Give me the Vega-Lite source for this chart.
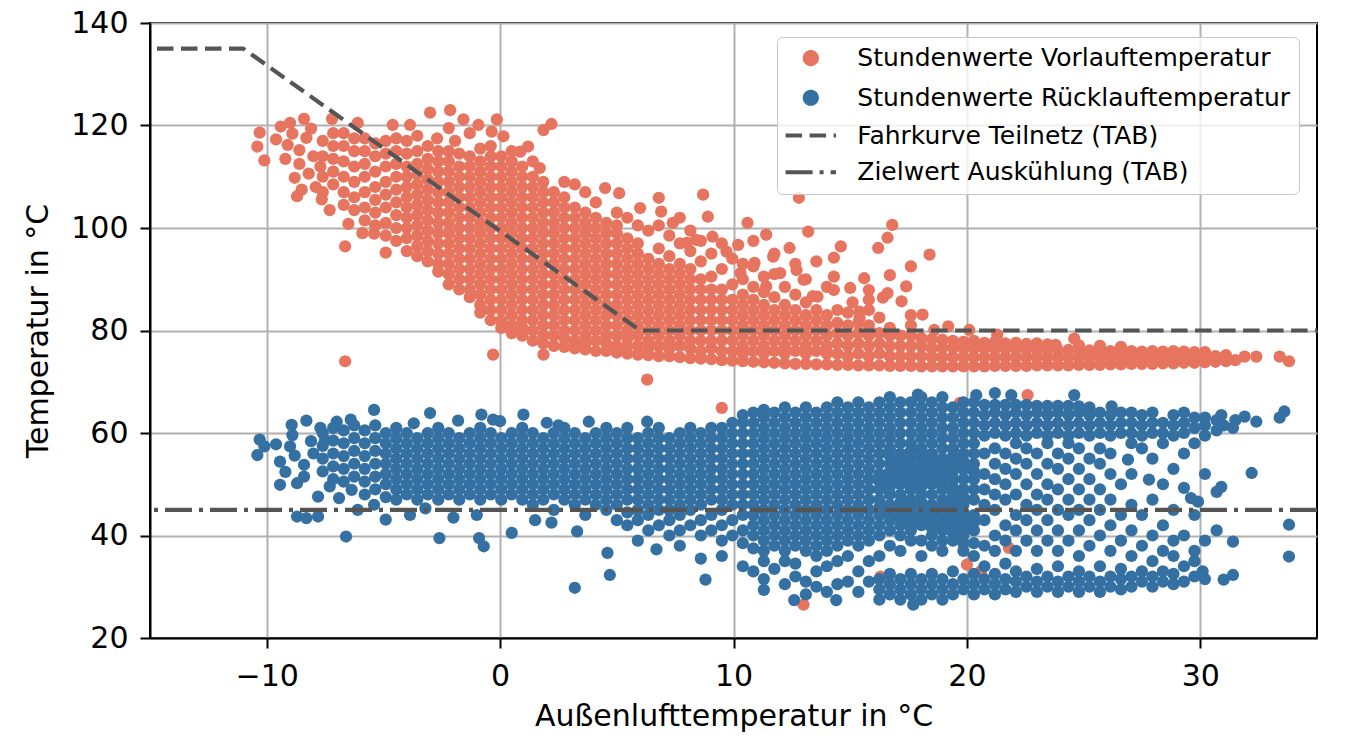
{
  "$schema": "https://vega.github.io/schema/vega-lite/v6.json",
  "description": "Stundenwerte Vor- und Rücklauftemperatur über der Außenlufttemperatur mit Fahrkurve und Zielwert (TAB).",
  "width": 1167,
  "height": 615,
  "autosize": {"type": "none"},
  "padding": {"left": 150, "top": 23, "right": 29, "bottom": 100},
  "datasets": {
    "vorlauf": [
      {"ta":-10.4,"t":115.9},{"ta":-10.3,"t":118.6},{"ta":-10.1,"t":113.2},{"ta":-9.6,"t":117.3},{"ta":-9.4,"t":119.8},{"ta":-9.2,"t":113.5},{"ta":-9.0,"t":120.5},{"ta":-9.1,"t":116.2},{"ta":-8.8,"t":109.8},{"ta":-8.9,"t":118.4},{"ta":-8.6,"t":112.5},{"ta":-8.6,"t":115.2},{"ta":-8.4,"t":121.3},{"ta":-8.3,"t":117.6},{"ta":-8.2,"t":110.6},{"ta":-8.0,"t":114.0},{"ta":-8.1,"t":119.4},{"ta":-7.9,"t":108.0},{"ta":-7.7,"t":112.0},{"ta":-7.64,"t":105.6},{"ta":-6.64,"t":74.0},{"ta":-6.64,"t":96.4},{"ta":-6.5,"t":100.8},{"ta":-4.9,"t":95.2},{"ta":-5.4,"t":98.9},{"ta":-7.2,"t":121.3},{"ta":-6.1,"t":120.5},{"ta":-4.6,"t":120.1},{"ta":-3.86,"t":120.1},{"ta":-3.0,"t":122.5},{"ta":-2.14,"t":123.0},{"ta":-1.57,"t":121.2},{"ta":-0.93,"t":120.1},{"ta":-0.14,"t":121.2},{"ta":-0.36,"t":118.8},{"ta":0.14,"t":117.9},{"ta":-2.7,"t":117.5},{"ta":-1.93,"t":117.0},{"ta":1.2,"t":115.9},{"ta":0.86,"t":114.9},{"ta":1.86,"t":119.1},{"ta":1.7,"t":111.7},{"ta":2.2,"t":120.3},{"ta":-0.3,"t":75.3},{"ta":1.86,"t":75.3},{"ta":6.3,"t":70.4},{"ta":9.5,"t":64.9},{"ta":12.8,"t":105.9},{"ta":8.7,"t":106.5},{"ta":6.8,"t":105.9},
      {"ta":11.7,"t":94.4},{"ta":10.9,"t":93.2},{"ta":9.7,"t":95.4},{"ta":10.3,"t":91.2},{"ta":12.0,"t":91.2},{"ta":12.7,"t":91.8},{"ta":13.0,"t":89.9},{"ta":13.6,"t":86.6},{"ta":11.4,"t":88.6},{"ta":8.0,"t":97.1},{"ta":7.4,"t":101},{"ta":6.9,"t":103.2},{"ta":6.0,"t":103.9},{"ta":5.0,"t":103},{"ta":9.1,"t":98.3},{"ta":8.4,"t":97.7},{"ta":10.2,"t":96.7},{"ta":15.8,"t":87.9},{"ta":16.4,"t":86.4},{"ta":15.4,"t":83.7},{"ta":16.6,"t":87.3},{"ta":-8.5,"t":107.5},{"ta":-8.7,"t":106.2},{"ta":-7.3,"t":103.5},{"ta":-5.9,"t":99},
      {"ta":-7.6,"t":107},{"ta":-7.6,"t":110},{"ta":-7.6,"t":114},{"ta":-7.6,"t":117},
      {"ta":-7.15,"t":108.5},{"ta":-7.15,"t":111},{"ta":-7.15,"t":113.5},{"ta":-7.15,"t":116},{"ta":-7.15,"t":118.5},
      {"ta":-6.7,"t":104.5},{"ta":-6.7,"t":107},{"ta":-6.7,"t":110},{"ta":-6.7,"t":113},{"ta":-6.7,"t":116},{"ta":-6.7,"t":118.5},
      {"ta":-6.25,"t":103.5},{"ta":-6.25,"t":106},{"ta":-6.25,"t":109},{"ta":-6.25,"t":112},{"ta":-6.25,"t":115},{"ta":-6.25,"t":117.5},
      {"ta":-5.8,"t":101.5},{"ta":-5.8,"t":104},{"ta":-5.8,"t":107},{"ta":-5.8,"t":110},{"ta":-5.8,"t":112.5},{"ta":-5.8,"t":115},{"ta":-5.8,"t":117.5},
      {"ta":-5.35,"t":100.5},{"ta":-5.35,"t":103},{"ta":-5.35,"t":105.5},{"ta":-5.35,"t":108},{"ta":-5.35,"t":111},{"ta":-5.35,"t":114},{"ta":-5.35,"t":116.5},
      {"ta":-4.9,"t":98.5},{"ta":-4.9,"t":101},{"ta":-4.9,"t":104},{"ta":-4.9,"t":106.5},{"ta":-4.9,"t":109},{"ta":-4.9,"t":112},{"ta":-4.9,"t":114.5},{"ta":-4.9,"t":117},
      {"ta":-4.45,"t":97.5},{"ta":-4.45,"t":100},{"ta":-4.45,"t":102.5},{"ta":-4.45,"t":105},{"ta":-4.45,"t":107.5},{"ta":-4.45,"t":110},{"ta":-4.45,"t":112.5},{"ta":-4.45,"t":115},{"ta":-4.45,"t":117.5},
      {"ta":-4.0,"t":95.5},{"ta":-4.0,"t":98},{"ta":-4.0,"t":100},{"ta":-4.0,"t":102},{"ta":-4.0,"t":104},{"ta":-4.0,"t":106},{"ta":-4.0,"t":108},{"ta":-4.0,"t":110},{"ta":-4.0,"t":112},{"ta":-4.0,"t":114.5},{"ta":-4.0,"t":117},
      {"ta":-3.55,"t":94.5},{"ta":-3.55,"t":96.5},{"ta":-3.55,"t":98.5},{"ta":-3.55,"t":100.5},{"ta":-3.55,"t":102.5},{"ta":-3.55,"t":104.5},{"ta":-3.55,"t":106.5},{"ta":-3.55,"t":108.5},{"ta":-3.55,"t":110.5},{"ta":-3.55,"t":112.5},{"ta":-3.55,"t":115},{"ta":-3.55,"t":118},
      {"ta":-3.1,"t":93.5},{"ta":-3.1,"t":95.5},{"ta":-3.1,"t":97.5},{"ta":-3.1,"t":99.5},{"ta":-3.1,"t":101.5},{"ta":-3.1,"t":103.5},{"ta":-3.1,"t":105.5},{"ta":-3.1,"t":107.5},{"ta":-3.1,"t":109.5},{"ta":-3.1,"t":111.5},{"ta":-3.1,"t":113.5},{"ta":-3.1,"t":116},
      {"ta":-2.65,"t":91.5},{"ta":-2.65,"t":93},{"ta":-2.65,"t":95},{"ta":-2.65,"t":97},{"ta":-2.65,"t":99},{"ta":-2.65,"t":101},{"ta":-2.65,"t":103},{"ta":-2.65,"t":105},{"ta":-2.65,"t":107},{"ta":-2.65,"t":109},{"ta":-2.65,"t":111},{"ta":-2.65,"t":113},{"ta":-2.65,"t":115},
      {"ta":-2.2,"t":89},{"ta":-2.2,"t":91},{"ta":-2.2,"t":93},{"ta":-2.2,"t":95},{"ta":-2.2,"t":97},{"ta":-2.2,"t":99},{"ta":-2.2,"t":101},{"ta":-2.2,"t":103},{"ta":-2.2,"t":105},{"ta":-2.2,"t":107},{"ta":-2.2,"t":109},{"ta":-2.2,"t":111},{"ta":-2.2,"t":113},{"ta":-2.2,"t":115},{"ta":-2.2,"t":119.5},
      {"ta":-1.75,"t":88},{"ta":-1.75,"t":90},{"ta":-1.75,"t":92},{"ta":-1.75,"t":94},{"ta":-1.75,"t":96},{"ta":-1.75,"t":98},{"ta":-1.75,"t":100},{"ta":-1.75,"t":102},{"ta":-1.75,"t":104},{"ta":-1.75,"t":106},{"ta":-1.75,"t":108},{"ta":-1.75,"t":110},{"ta":-1.75,"t":112},{"ta":-1.75,"t":114.5},
      {"ta":-1.3,"t":86.5},{"ta":-1.3,"t":88},{"ta":-1.3,"t":90},{"ta":-1.3,"t":92},{"ta":-1.3,"t":94},{"ta":-1.3,"t":96},{"ta":-1.3,"t":98},{"ta":-1.3,"t":100},{"ta":-1.3,"t":102},{"ta":-1.3,"t":104},{"ta":-1.3,"t":106},{"ta":-1.3,"t":108},{"ta":-1.3,"t":110},{"ta":-1.3,"t":112},{"ta":-1.3,"t":114},{"ta":-1.3,"t":118.5},
      {"ta":-0.85,"t":83.5},{"ta":-0.85,"t":85},{"ta":-0.85,"t":87},{"ta":-0.85,"t":89},{"ta":-0.85,"t":91},{"ta":-0.85,"t":93},{"ta":-0.85,"t":95},{"ta":-0.85,"t":97},{"ta":-0.85,"t":99},{"ta":-0.85,"t":101},{"ta":-0.85,"t":103},{"ta":-0.85,"t":105},{"ta":-0.85,"t":107},{"ta":-0.85,"t":109},{"ta":-0.85,"t":111},{"ta":-0.85,"t":113},{"ta":-0.85,"t":115.5},
      {"ta":-0.4,"t":82},{"ta":-0.4,"t":84},{"ta":-0.4,"t":86},{"ta":-0.4,"t":88},{"ta":-0.4,"t":90},{"ta":-0.4,"t":92},{"ta":-0.4,"t":94},{"ta":-0.4,"t":96},{"ta":-0.4,"t":98},{"ta":-0.4,"t":100},{"ta":-0.4,"t":102},{"ta":-0.4,"t":104},{"ta":-0.4,"t":106},{"ta":-0.4,"t":108},{"ta":-0.4,"t":110},{"ta":-0.4,"t":112},{"ta":-0.4,"t":114},{"ta":-0.4,"t":116},
      {"ta":0.05,"t":80.5},{"ta":0.05,"t":82},{"ta":0.05,"t":84},{"ta":0.05,"t":86},{"ta":0.05,"t":88},{"ta":0.05,"t":90},{"ta":0.05,"t":92},{"ta":0.05,"t":94},{"ta":0.05,"t":96},{"ta":0.05,"t":98},{"ta":0.05,"t":100},{"ta":0.05,"t":102},{"ta":0.05,"t":104},{"ta":0.05,"t":106},{"ta":0.05,"t":108},{"ta":0.05,"t":110},{"ta":0.05,"t":112},{"ta":0.05,"t":114},
      {"ta":0.5,"t":79.5},{"ta":0.5,"t":81},{"ta":0.5,"t":83},{"ta":0.5,"t":85},{"ta":0.5,"t":87},{"ta":0.5,"t":89},{"ta":0.5,"t":91},{"ta":0.5,"t":93},{"ta":0.5,"t":95},{"ta":0.5,"t":97},{"ta":0.5,"t":99},{"ta":0.5,"t":101},{"ta":0.5,"t":103},{"ta":0.5,"t":105},{"ta":0.5,"t":107},{"ta":0.5,"t":109},{"ta":0.5,"t":111},{"ta":0.5,"t":113},{"ta":0.5,"t":115},
      {"ta":0.95,"t":79},{"ta":0.95,"t":80.5},{"ta":0.95,"t":82},{"ta":0.95,"t":84},{"ta":0.95,"t":86},{"ta":0.95,"t":88},{"ta":0.95,"t":90},{"ta":0.95,"t":92},{"ta":0.95,"t":94},{"ta":0.95,"t":96},{"ta":0.95,"t":98},{"ta":0.95,"t":100},{"ta":0.95,"t":102},{"ta":0.95,"t":104},{"ta":0.95,"t":106},{"ta":0.95,"t":108},{"ta":0.95,"t":110},{"ta":0.95,"t":112},
      {"ta":1.4,"t":78},{"ta":1.4,"t":80},{"ta":1.4,"t":82},{"ta":1.4,"t":84},{"ta":1.4,"t":86},{"ta":1.4,"t":88},{"ta":1.4,"t":90},{"ta":1.4,"t":92},{"ta":1.4,"t":94},{"ta":1.4,"t":96},{"ta":1.4,"t":98},{"ta":1.4,"t":100},{"ta":1.4,"t":102},{"ta":1.4,"t":104},{"ta":1.4,"t":106},{"ta":1.4,"t":108},{"ta":1.4,"t":110},{"ta":1.4,"t":113},
      {"ta":1.85,"t":77.5},{"ta":1.85,"t":79},{"ta":1.85,"t":81},{"ta":1.85,"t":83},{"ta":1.85,"t":85},{"ta":1.85,"t":87},{"ta":1.85,"t":89},{"ta":1.85,"t":91},{"ta":1.85,"t":93},{"ta":1.85,"t":95},{"ta":1.85,"t":97},{"ta":1.85,"t":99},{"ta":1.85,"t":101},{"ta":1.85,"t":103},{"ta":1.85,"t":105},{"ta":1.85,"t":107},{"ta":1.85,"t":109},
      {"ta":2.3,"t":77},{"ta":2.3,"t":79},{"ta":2.3,"t":81},{"ta":2.3,"t":83},{"ta":2.3,"t":85},{"ta":2.3,"t":87},{"ta":2.3,"t":89},{"ta":2.3,"t":91},{"ta":2.3,"t":93},{"ta":2.3,"t":95},{"ta":2.3,"t":97},{"ta":2.3,"t":99},{"ta":2.3,"t":101},{"ta":2.3,"t":103},{"ta":2.3,"t":105},{"ta":2.3,"t":107},
      {"ta":2.75,"t":76.8},{"ta":2.75,"t":78.5},{"ta":2.75,"t":80},{"ta":2.75,"t":82},{"ta":2.75,"t":84},{"ta":2.75,"t":86},{"ta":2.75,"t":88},{"ta":2.75,"t":90},{"ta":2.75,"t":92},{"ta":2.75,"t":94},{"ta":2.75,"t":96},{"ta":2.75,"t":98},{"ta":2.75,"t":100},{"ta":2.75,"t":102},{"ta":2.75,"t":104},{"ta":2.75,"t":106},{"ta":2.75,"t":109},
      {"ta":3.2,"t":76.5},{"ta":3.2,"t":78},{"ta":3.2,"t":80},{"ta":3.2,"t":82},{"ta":3.2,"t":84},{"ta":3.2,"t":86},{"ta":3.2,"t":88},{"ta":3.2,"t":90},{"ta":3.2,"t":92},{"ta":3.2,"t":94},{"ta":3.2,"t":96},{"ta":3.2,"t":98},{"ta":3.2,"t":100},{"ta":3.2,"t":102},{"ta":3.2,"t":104},{"ta":3.2,"t":108.5},
      {"ta":3.65,"t":76.3},{"ta":3.65,"t":77.5},{"ta":3.65,"t":79},{"ta":3.65,"t":81},{"ta":3.65,"t":83},{"ta":3.65,"t":85},{"ta":3.65,"t":87},{"ta":3.65,"t":89},{"ta":3.65,"t":91},{"ta":3.65,"t":93},{"ta":3.65,"t":95},{"ta":3.65,"t":97},{"ta":3.65,"t":99},{"ta":3.65,"t":101},{"ta":3.65,"t":103},{"ta":3.65,"t":107},
      {"ta":4.1,"t":76},{"ta":4.1,"t":78},{"ta":4.1,"t":80},{"ta":4.1,"t":82},{"ta":4.1,"t":84},{"ta":4.1,"t":86},{"ta":4.1,"t":88},{"ta":4.1,"t":90},{"ta":4.1,"t":92},{"ta":4.1,"t":94},{"ta":4.1,"t":96},{"ta":4.1,"t":98},{"ta":4.1,"t":100},{"ta":4.1,"t":102},{"ta":4.1,"t":105},
      {"ta":4.55,"t":76},{"ta":4.55,"t":77.5},{"ta":4.55,"t":79},{"ta":4.55,"t":81},{"ta":4.55,"t":83},{"ta":4.55,"t":85},{"ta":4.55,"t":87},{"ta":4.55,"t":89},{"ta":4.55,"t":91},{"ta":4.55,"t":93},{"ta":4.55,"t":95},{"ta":4.55,"t":97},{"ta":4.55,"t":99},{"ta":4.55,"t":101},{"ta":4.5,"t":107.8},
      {"ta":5.0,"t":75.7},{"ta":5.0,"t":77},{"ta":5.0,"t":79},{"ta":5.0,"t":81},{"ta":5.0,"t":83},{"ta":5.0,"t":85},{"ta":5.0,"t":87},{"ta":5.0,"t":89},{"ta":5.0,"t":91},{"ta":5.0,"t":93},{"ta":5.0,"t":95},{"ta":5.0,"t":97},{"ta":5.0,"t":99},{"ta":5.0,"t":100.5},{"ta":5.1,"t":106.8},
      {"ta":5.45,"t":75.5},{"ta":5.45,"t":77},{"ta":5.45,"t":78.5},{"ta":5.45,"t":80},{"ta":5.45,"t":82},{"ta":5.45,"t":84},{"ta":5.45,"t":86},{"ta":5.45,"t":88},{"ta":5.45,"t":90},{"ta":5.45,"t":92},{"ta":5.45,"t":94},{"ta":5.45,"t":96},{"ta":5.45,"t":98},{"ta":5.45,"t":102},
      {"ta":5.9,"t":75.3},{"ta":5.9,"t":77},{"ta":5.9,"t":79},{"ta":5.9,"t":81},{"ta":5.9,"t":83},{"ta":5.9,"t":85},{"ta":5.9,"t":87},{"ta":5.9,"t":89},{"ta":5.9,"t":91},{"ta":5.9,"t":93},{"ta":5.9,"t":95},{"ta":5.9,"t":97},{"ta":5.9,"t":100.5},
      {"ta":6.35,"t":75.2},{"ta":6.35,"t":76.5},{"ta":6.35,"t":78},{"ta":6.35,"t":80},{"ta":6.35,"t":82},{"ta":6.35,"t":84},{"ta":6.35,"t":86},{"ta":6.35,"t":88},{"ta":6.35,"t":90},{"ta":6.35,"t":92},{"ta":6.35,"t":94},{"ta":6.35,"t":99.5},
      {"ta":6.8,"t":75},{"ta":6.8,"t":77},{"ta":6.8,"t":79},{"ta":6.8,"t":81},{"ta":6.8,"t":83},{"ta":6.8,"t":85},{"ta":6.8,"t":87},{"ta":6.8,"t":89},{"ta":6.8,"t":91},{"ta":6.8,"t":93},{"ta":6.8,"t":96},{"ta":6.8,"t":100.5},
      {"ta":7.25,"t":75},{"ta":7.25,"t":76.5},{"ta":7.25,"t":78},{"ta":7.25,"t":80},{"ta":7.25,"t":82},{"ta":7.25,"t":84},{"ta":7.25,"t":86},{"ta":7.25,"t":88},{"ta":7.25,"t":90},{"ta":7.25,"t":92},{"ta":7.25,"t":94.5},{"ta":7.25,"t":98.5},
      {"ta":7.7,"t":74.8},{"ta":7.7,"t":77},{"ta":7.7,"t":79},{"ta":7.7,"t":81},{"ta":7.7,"t":83},{"ta":7.7,"t":85},{"ta":7.7,"t":87},{"ta":7.7,"t":89},{"ta":7.7,"t":91},{"ta":7.7,"t":93},{"ta":7.7,"t":97},{"ta":7.7,"t":102},
      {"ta":8.15,"t":74.6},{"ta":8.15,"t":76.5},{"ta":8.15,"t":78},{"ta":8.15,"t":80},{"ta":8.15,"t":82},{"ta":8.15,"t":84},{"ta":8.15,"t":86},{"ta":8.15,"t":88},{"ta":8.15,"t":90},{"ta":8.15,"t":92},{"ta":8.15,"t":95.5},{"ta":8.15,"t":99.5},
      {"ta":8.6,"t":74.5},{"ta":8.6,"t":76},{"ta":8.6,"t":78},{"ta":8.6,"t":80},{"ta":8.6,"t":82},{"ta":8.6,"t":84},{"ta":8.6,"t":86},{"ta":8.6,"t":88},{"ta":8.6,"t":90},{"ta":8.6,"t":93.5},{"ta":8.6,"t":97.5},
      {"ta":9.05,"t":74.4},{"ta":9.05,"t":76.5},{"ta":9.05,"t":78},{"ta":9.05,"t":80},{"ta":9.05,"t":82},{"ta":9.05,"t":84},{"ta":9.05,"t":86},{"ta":9.05,"t":88},{"ta":9.05,"t":90.5},{"ta":9.05,"t":95},{"ta":8.9,"t":102.2},
      {"ta":9.5,"t":74.2},{"ta":9.5,"t":76},{"ta":9.5,"t":78},{"ta":9.5,"t":80},{"ta":9.5,"t":82},{"ta":9.5,"t":84},{"ta":9.5,"t":86},{"ta":9.5,"t":88},{"ta":9.5,"t":92},{"ta":9.5,"t":97},
      {"ta":9.95,"t":74.1},{"ta":9.95,"t":76},{"ta":9.95,"t":78},{"ta":9.95,"t":80},{"ta":9.95,"t":82},{"ta":9.95,"t":84},{"ta":9.95,"t":86},{"ta":9.95,"t":89},{"ta":9.95,"t":94},
      {"ta":10.4,"t":74},{"ta":10.4,"t":75.5},{"ta":10.4,"t":77},{"ta":10.4,"t":79},{"ta":10.4,"t":81},{"ta":10.4,"t":83},{"ta":10.4,"t":85},{"ta":10.4,"t":87},{"ta":10.4,"t":90},{"ta":10.4,"t":93},{"ta":10.6,"t":101},
      {"ta":10.85,"t":73.9},{"ta":10.85,"t":76},{"ta":10.85,"t":78},{"ta":10.85,"t":80},{"ta":10.85,"t":82},{"ta":10.85,"t":84},{"ta":10.85,"t":86},{"ta":10.85,"t":88.5},{"ta":10.85,"t":92.5},{"ta":10.85,"t":97.5},
      {"ta":11.3,"t":73.8},{"ta":11.3,"t":75.5},{"ta":11.3,"t":77},{"ta":11.3,"t":79},{"ta":11.3,"t":81},{"ta":11.3,"t":83},{"ta":11.3,"t":85},{"ta":11.3,"t":87.5},{"ta":11.3,"t":90.5},{"ta":11.4,"t":98.7},
      {"ta":11.75,"t":73.7},{"ta":11.75,"t":76},{"ta":11.75,"t":78},{"ta":11.75,"t":80},{"ta":11.75,"t":82},{"ta":11.75,"t":84},{"ta":11.75,"t":86.5},{"ta":11.75,"t":91},{"ta":11.75,"t":95},
      {"ta":12.2,"t":73.6},{"ta":12.2,"t":75.5},{"ta":12.2,"t":77},{"ta":12.2,"t":79},{"ta":12.2,"t":81},{"ta":12.2,"t":83},{"ta":12.2,"t":85},{"ta":12.2,"t":88.5},{"ta":12.4,"t":96.1},
      {"ta":12.65,"t":73.5},{"ta":12.65,"t":76},{"ta":12.65,"t":78},{"ta":12.65,"t":80},{"ta":12.65,"t":82},{"ta":12.65,"t":84},{"ta":12.65,"t":87},{"ta":12.65,"t":93},
      {"ta":13.1,"t":73.5},{"ta":13.1,"t":75.5},{"ta":13.1,"t":77},{"ta":13.1,"t":79},{"ta":13.1,"t":81},{"ta":13.1,"t":83},{"ta":13.1,"t":85.5},{"ta":13.1,"t":90},{"ta":13.2,"t":99.3},
      {"ta":13.55,"t":73.4},{"ta":13.55,"t":76},{"ta":13.55,"t":78},{"ta":13.55,"t":80},{"ta":13.55,"t":82},{"ta":13.55,"t":84},{"ta":13.4,"t":86.7},{"ta":13.55,"t":93.5},
      {"ta":14.0,"t":73.4},{"ta":14.0,"t":75.5},{"ta":14.0,"t":77},{"ta":14.0,"t":79},{"ta":14.0,"t":81},{"ta":14.0,"t":83},{"ta":14.0,"t":88.5},{"ta":14.6,"t":96.4},
      {"ta":14.45,"t":73.3},{"ta":14.45,"t":75.5},{"ta":14.45,"t":77.5},{"ta":14.45,"t":79.5},{"ta":14.45,"t":81.5},{"ta":14.45,"t":84},{"ta":14.3,"t":87.9},{"ta":14.3,"t":90.5},{"ta":14.3,"t":94.2},
      {"ta":14.9,"t":73.3},{"ta":14.9,"t":75},{"ta":14.9,"t":77},{"ta":14.9,"t":79},{"ta":14.9,"t":81},{"ta":14.9,"t":83.5},{"ta":15.1,"t":85.5},{"ta":15.0,"t":88.3},
      {"ta":15.35,"t":73.2},{"ta":15.35,"t":75.5},{"ta":15.35,"t":77.5},{"ta":15.35,"t":79.5},{"ta":15.35,"t":81.5},{"ta":15.4,"t":82.5},{"ta":15.6,"t":90.2},
      {"ta":15.8,"t":73.2},{"ta":15.8,"t":75},{"ta":15.8,"t":77},{"ta":15.8,"t":79},{"ta":15.8,"t":81},{"ta":15.8,"t":84},{"ta":15.8,"t":86},
      {"ta":16.25,"t":73.2},{"ta":16.25,"t":75.5},{"ta":16.25,"t":77.5},{"ta":16.25,"t":79.5},{"ta":16.25,"t":82.5},{"ta":16.2,"t":96.1},
      {"ta":16.7,"t":73.1},{"ta":16.7,"t":75},{"ta":16.7,"t":77},{"ta":16.7,"t":79},{"ta":16.7,"t":80.5},{"ta":16.7,"t":90.8},{"ta":16.6,"t":98.1},{"ta":16.8,"t":100.6},
      {"ta":17.15,"t":73.1},{"ta":17.15,"t":75},{"ta":17.15,"t":77},{"ta":17.15,"t":79},{"ta":17.2,"t":85.7},{"ta":17.4,"t":88.6},
      {"ta":17.6,"t":73.1},{"ta":17.6,"t":75},{"ta":17.6,"t":77},{"ta":17.6,"t":79},{"ta":17.6,"t":81},{"ta":17.6,"t":83},{"ta":17.6,"t":92.5},
      {"ta":18.05,"t":73},{"ta":18.05,"t":75},{"ta":18.05,"t":77},{"ta":18.05,"t":78.5},{"ta":18.1,"t":83.1},
      {"ta":18.5,"t":73},{"ta":18.5,"t":74.8},{"ta":18.5,"t":76.5},{"ta":18.5,"t":78.3},{"ta":18.6,"t":80.1},{"ta":18.4,"t":94.8},
      {"ta":18.95,"t":73},{"ta":18.95,"t":74.8},{"ta":18.95,"t":76.6},{"ta":18.95,"t":78.2},{"ta":19.2,"t":80.8},
      {"ta":19.4,"t":73},{"ta":19.4,"t":74.8},{"ta":19.4,"t":76.6},{"ta":19.4,"t":78},
      {"ta":19.85,"t":73},{"ta":19.85,"t":74.8},{"ta":19.85,"t":76.5},{"ta":19.85,"t":77.8},
      {"ta":20.3,"t":73},{"ta":20.3,"t":74.8},{"ta":20.3,"t":76.5},{"ta":20.3,"t":78},{"ta":20.1,"t":80.1},
      {"ta":20.75,"t":73},{"ta":20.75,"t":74.8},{"ta":20.75,"t":76.5},{"ta":20.75,"t":77.6},
      {"ta":21.2,"t":73.1},{"ta":21.2,"t":74.8},{"ta":21.2,"t":76.4},{"ta":21.2,"t":77.8},{"ta":21.3,"t":79.2},
      {"ta":21.65,"t":73.1},{"ta":21.65,"t":74.8},{"ta":21.65,"t":76.4},{"ta":21.65,"t":77.5},
      {"ta":22.1,"t":73.1},{"ta":22.1,"t":74.8},{"ta":22.1,"t":76.4},{"ta":22.1,"t":77.6},
      {"ta":22.55,"t":73.1},{"ta":22.55,"t":74.8},{"ta":22.55,"t":76.3},{"ta":22.55,"t":77.4},
      {"ta":23.0,"t":73.2},{"ta":23.0,"t":74.8},{"ta":23.0,"t":76.3},{"ta":23.0,"t":77.5},
      {"ta":23.45,"t":73.2},{"ta":23.45,"t":74.8},{"ta":23.45,"t":76.3},{"ta":23.45,"t":77.3},
      {"ta":23.9,"t":73.2},{"ta":23.9,"t":74.8},{"ta":23.9,"t":76.2},{"ta":23.8,"t":77.2},
      {"ta":24.35,"t":73.2},{"ta":24.35,"t":74.8},{"ta":24.35,"t":76.2},{"ta":24.6,"t":78.4},
      {"ta":24.8,"t":73.3},{"ta":24.8,"t":74.8},{"ta":24.8,"t":76.2},{"ta":24.8,"t":77.1},
      {"ta":25.25,"t":73.3},{"ta":25.25,"t":74.8},{"ta":25.25,"t":76.1},
      {"ta":25.7,"t":73.3},{"ta":25.7,"t":74.8},{"ta":25.7,"t":76.1},{"ta":25.7,"t":77},
      {"ta":26.15,"t":73.4},{"ta":26.15,"t":74.8},{"ta":26.15,"t":76},
      {"ta":26.6,"t":73.4},{"ta":26.6,"t":74.8},{"ta":26.6,"t":76},{"ta":26.6,"t":76.8},
      {"ta":27.05,"t":73.5},{"ta":27.05,"t":74.8},{"ta":27.05,"t":76},
      {"ta":27.5,"t":73.5},{"ta":27.5,"t":74.8},{"ta":27.5,"t":75.9},
      {"ta":27.95,"t":73.5},{"ta":27.95,"t":74.8},{"ta":27.95,"t":76},
      {"ta":28.4,"t":73.6},{"ta":28.4,"t":74.9},{"ta":28.4,"t":75.9},
      {"ta":28.85,"t":73.6},{"ta":28.85,"t":74.9},{"ta":28.85,"t":76},
      {"ta":29.3,"t":73.7},{"ta":29.3,"t":74.9},{"ta":29.3,"t":75.9},
      {"ta":29.75,"t":73.7},{"ta":29.75,"t":74.9},{"ta":29.75,"t":75.8},
      {"ta":30.2,"t":73.8},{"ta":30.2,"t":75},{"ta":30.2,"t":75.8},
      {"ta":30.65,"t":73.9},{"ta":30.65,"t":75},
      {"ta":31.1,"t":74},{"ta":31.1,"t":75.2},{"ta":31.5,"t":74.2},{"ta":31.9,"t":74.9},{"ta":32.4,"t":74.9},{"ta":33.4,"t":74.9},{"ta":33.8,"t":74.0},
      {"ta":13.0,"t":26.5},{"ta":21.8,"t":37.6},{"ta":16.3,"t":32},{"ta":20.0,"t":34.3},{"ta":20.6,"t":33},{"ta":19.7,"t":65.9},{"ta":22.6,"t":67.4}
    ],
    "ruecklauf": [
      {"ta":-10.3,"t":58.7},{"ta":-10.1,"t":57.4},{"ta":-10.4,"t":55.7},{"ta":-9.43,"t":54.4},{"ta":-9.43,"t":49.9},{"ta":-8.93,"t":61.6},{"ta":-8.3,"t":62.4},{"ta":-9.0,"t":57.4},{"ta":-8.7,"t":50.2},{"ta":-8.7,"t":43.7},{"ta":-8.3,"t":43.4},{"ta":-7.8,"t":43.7},{"ta":-7.8,"t":47.6},{"ta":-8.4,"t":51.5},{"ta":-8.4,"t":53.8},{"ta":-7.7,"t":61},{"ta":-7.0,"t":62.2},{"ta":-6.4,"t":62.6},{"ta":-5.4,"t":64.5},{"ta":-6.6,"t":39.8},{"ta":-7.3,"t":49.6},{"ta":-6.9,"t":47.3},{"ta":-6.36,"t":48.9},{"ta":-6.1,"t":45},{"ta":-5.4,"t":46},{"ta":-4.9,"t":43.1},{"ta":-3.86,"t":44},{"ta":-3.7,"t":61.9},{"ta":-3.0,"t":63.9},{"ta":-3.2,"t":45.3},{"ta":-2.6,"t":39.5},{"ta":-0.8,"t":63.6},{"ta":-0.3,"t":62.6},{"ta":1.0,"t":63.6},{"ta":2.5,"t":61.5},{"ta":-0.9,"t":39.5},{"ta":-0.7,"t":37.9},{"ta":0.5,"t":40.5},{"ta":3.3,"t":40.8},{"ta":3.2,"t":29.8},{"ta":-9.6,"t":57.8},{"ta":-8.9,"t":59.6},{"ta":-8.1,"t":58.4},{"ta":-8.8,"t":55.6},{"ta":-9.2,"t":52.4},{"ta":-8.0,"t":56.0},{"ta":-7.5,"t":58.6},{"ta":-2.0,"t":43.5},{"ta":-1.0,"t":44},{"ta":1.5,"t":43},{"ta":2.2,"t":42.5},{"ta":0.0,"t":62.3},{"ta":2.0,"t":62.0},{"ta":3.8,"t":62.2},{"ta":-1.8,"t":62.4},
      {"ta":-7.6,"t":52.5},{"ta":-7.6,"t":55},{"ta":-7.6,"t":57.5},{"ta":-7.6,"t":60},
      {"ta":-7.15,"t":51},{"ta":-7.15,"t":53.5},{"ta":-7.15,"t":56},{"ta":-7.15,"t":58.5},{"ta":-7.15,"t":61},
      {"ta":-6.7,"t":50.5},{"ta":-6.7,"t":53},{"ta":-6.7,"t":55.5},{"ta":-6.7,"t":58},{"ta":-6.7,"t":60.5},
      {"ta":-6.25,"t":51.5},{"ta":-6.25,"t":54},{"ta":-6.25,"t":56.5},{"ta":-6.25,"t":59},{"ta":-6.25,"t":61.5},
      {"ta":-5.8,"t":48},{"ta":-5.8,"t":50.5},{"ta":-5.8,"t":53},{"ta":-5.8,"t":55.5},{"ta":-5.8,"t":58},{"ta":-5.8,"t":60.5},
      {"ta":-5.35,"t":49},{"ta":-5.35,"t":51.5},{"ta":-5.35,"t":54},{"ta":-5.35,"t":56.5},{"ta":-5.35,"t":59},{"ta":-5.35,"t":61.5},
      {"ta":-4.9,"t":47.5},{"ta":-4.9,"t":50},{"ta":-4.9,"t":52},{"ta":-4.9,"t":54},{"ta":-4.9,"t":56},{"ta":-4.9,"t":58},{"ta":-4.9,"t":60},
      {"ta":-4.45,"t":47},{"ta":-4.45,"t":49},{"ta":-4.45,"t":51},{"ta":-4.45,"t":53},{"ta":-4.45,"t":55},{"ta":-4.45,"t":57},{"ta":-4.45,"t":59},{"ta":-4.45,"t":61},
      {"ta":-4.0,"t":48},{"ta":-4.0,"t":50},{"ta":-4.0,"t":52},{"ta":-4.0,"t":54},{"ta":-4.0,"t":56},{"ta":-4.0,"t":58},{"ta":-4.0,"t":60},
      {"ta":-3.55,"t":47},{"ta":-3.55,"t":49},{"ta":-3.55,"t":51},{"ta":-3.55,"t":53},{"ta":-3.55,"t":55},{"ta":-3.55,"t":57},{"ta":-3.55,"t":59},
      {"ta":-3.1,"t":48},{"ta":-3.1,"t":50},{"ta":-3.1,"t":52},{"ta":-3.1,"t":54},{"ta":-3.1,"t":56},{"ta":-3.1,"t":58},{"ta":-3.1,"t":60},
      {"ta":-2.65,"t":47},{"ta":-2.65,"t":49},{"ta":-2.65,"t":51},{"ta":-2.65,"t":53},{"ta":-2.65,"t":55},{"ta":-2.65,"t":57},{"ta":-2.65,"t":59},{"ta":-2.65,"t":61},
      {"ta":-2.2,"t":48},{"ta":-2.2,"t":50},{"ta":-2.2,"t":52},{"ta":-2.2,"t":54},{"ta":-2.2,"t":56},{"ta":-2.2,"t":58},{"ta":-2.2,"t":60},
      {"ta":-1.75,"t":47},{"ta":-1.75,"t":49},{"ta":-1.75,"t":51},{"ta":-1.75,"t":53},{"ta":-1.75,"t":55},{"ta":-1.75,"t":57},{"ta":-1.75,"t":59},
      {"ta":-1.3,"t":48},{"ta":-1.3,"t":50},{"ta":-1.3,"t":52},{"ta":-1.3,"t":54},{"ta":-1.3,"t":56},{"ta":-1.3,"t":58},{"ta":-1.3,"t":60},
      {"ta":-0.85,"t":47},{"ta":-0.85,"t":49},{"ta":-0.85,"t":51},{"ta":-0.85,"t":53},{"ta":-0.85,"t":55},{"ta":-0.85,"t":57},{"ta":-0.85,"t":59},{"ta":-0.85,"t":61},
      {"ta":-0.4,"t":48},{"ta":-0.4,"t":50},{"ta":-0.4,"t":52},{"ta":-0.4,"t":54},{"ta":-0.4,"t":56},{"ta":-0.4,"t":58},{"ta":-0.4,"t":60},
      {"ta":0.05,"t":47},{"ta":0.05,"t":49},{"ta":0.05,"t":51},{"ta":0.05,"t":53},{"ta":0.05,"t":55},{"ta":0.05,"t":57},{"ta":0.05,"t":59},
      {"ta":0.5,"t":48},{"ta":0.5,"t":50},{"ta":0.5,"t":52},{"ta":0.5,"t":54},{"ta":0.5,"t":56},{"ta":0.5,"t":58},{"ta":0.5,"t":60},
      {"ta":0.95,"t":47},{"ta":0.95,"t":49},{"ta":0.95,"t":51},{"ta":0.95,"t":53},{"ta":0.95,"t":55},{"ta":0.95,"t":57},{"ta":0.95,"t":59},{"ta":0.95,"t":61},
      {"ta":1.4,"t":46},{"ta":1.4,"t":48},{"ta":1.4,"t":50},{"ta":1.4,"t":52},{"ta":1.4,"t":54},{"ta":1.4,"t":56},{"ta":1.4,"t":58},{"ta":1.4,"t":60},
      {"ta":1.85,"t":47},{"ta":1.85,"t":49},{"ta":1.85,"t":51},{"ta":1.85,"t":53},{"ta":1.85,"t":55},{"ta":1.85,"t":57},{"ta":1.85,"t":59},
      {"ta":2.3,"t":45},{"ta":2.3,"t":48},{"ta":2.3,"t":50},{"ta":2.3,"t":52},{"ta":2.3,"t":54},{"ta":2.3,"t":56},{"ta":2.3,"t":58},{"ta":2.3,"t":60},
      {"ta":2.75,"t":47},{"ta":2.75,"t":49},{"ta":2.75,"t":51},{"ta":2.75,"t":53},{"ta":2.75,"t":55},{"ta":2.75,"t":57},{"ta":2.75,"t":59},{"ta":2.75,"t":61},
      {"ta":3.2,"t":46},{"ta":3.2,"t":48},{"ta":3.2,"t":50},{"ta":3.2,"t":52},{"ta":3.2,"t":54},{"ta":3.2,"t":56},{"ta":3.2,"t":58},{"ta":3.2,"t":60},
      {"ta":3.65,"t":44},{"ta":3.65,"t":47},{"ta":3.65,"t":49},{"ta":3.65,"t":51},{"ta":3.65,"t":53},{"ta":3.65,"t":55},{"ta":3.65,"t":57},{"ta":3.65,"t":59},
      {"ta":4.1,"t":46},{"ta":4.1,"t":48},{"ta":4.1,"t":50},{"ta":4.1,"t":52},{"ta":4.1,"t":54},{"ta":4.1,"t":56},{"ta":4.1,"t":58},{"ta":4.1,"t":60},
      {"ta":4.55,"t":45},{"ta":4.55,"t":47},{"ta":4.55,"t":49},{"ta":4.55,"t":51},{"ta":4.55,"t":53},{"ta":4.55,"t":55},{"ta":4.55,"t":57},{"ta":4.55,"t":59},{"ta":4.55,"t":61},{"ta":4.6,"t":36.6},{"ta":4.7,"t":32.3},
      {"ta":5.0,"t":43},{"ta":5.0,"t":46},{"ta":5.0,"t":48},{"ta":5.0,"t":50},{"ta":5.0,"t":52},{"ta":5.0,"t":54},{"ta":5.0,"t":56},{"ta":5.0,"t":58},{"ta":5.0,"t":60},
      {"ta":5.45,"t":42},{"ta":5.45,"t":44.5},{"ta":5.45,"t":47},{"ta":5.45,"t":49},{"ta":5.45,"t":51},{"ta":5.45,"t":53},{"ta":5.45,"t":55},{"ta":5.45,"t":57},{"ta":5.45,"t":59},{"ta":5.45,"t":61},
      {"ta":5.9,"t":43},{"ta":5.9,"t":45},{"ta":5.9,"t":47},{"ta":5.9,"t":49},{"ta":5.9,"t":51},{"ta":5.9,"t":53},{"ta":5.9,"t":55},{"ta":5.9,"t":57},{"ta":5.9,"t":59},{"ta":5.9,"t":39},
      {"ta":6.35,"t":41},{"ta":6.35,"t":44},{"ta":6.35,"t":46},{"ta":6.35,"t":48},{"ta":6.35,"t":50},{"ta":6.35,"t":52},{"ta":6.35,"t":54},{"ta":6.35,"t":56},{"ta":6.35,"t":58},{"ta":6.35,"t":60},{"ta":6.3,"t":62.2},
      {"ta":6.8,"t":42},{"ta":6.8,"t":45},{"ta":6.8,"t":47},{"ta":6.8,"t":49},{"ta":6.8,"t":51},{"ta":6.8,"t":53},{"ta":6.8,"t":55},{"ta":6.8,"t":57},{"ta":6.8,"t":59},{"ta":6.8,"t":61},{"ta":6.7,"t":37.3},
      {"ta":7.25,"t":40},{"ta":7.25,"t":43},{"ta":7.25,"t":45},{"ta":7.25,"t":47},{"ta":7.25,"t":49},{"ta":7.25,"t":51},{"ta":7.25,"t":53},{"ta":7.25,"t":55},{"ta":7.25,"t":57},{"ta":7.25,"t":59},
      {"ta":7.7,"t":41},{"ta":7.7,"t":44},{"ta":7.7,"t":46},{"ta":7.7,"t":48},{"ta":7.7,"t":50},{"ta":7.7,"t":52},{"ta":7.7,"t":54},{"ta":7.7,"t":56},{"ta":7.7,"t":58},{"ta":7.7,"t":60},{"ta":7.7,"t":38},
      {"ta":8.15,"t":42},{"ta":8.15,"t":45},{"ta":8.15,"t":47},{"ta":8.15,"t":49},{"ta":8.15,"t":51},{"ta":8.15,"t":53},{"ta":8.15,"t":55},{"ta":8.15,"t":57},{"ta":8.15,"t":59},{"ta":8.15,"t":61},
      {"ta":8.6,"t":40},{"ta":8.6,"t":43},{"ta":8.6,"t":46},{"ta":8.6,"t":48},{"ta":8.6,"t":50},{"ta":8.6,"t":52},{"ta":8.6,"t":54},{"ta":8.6,"t":56},{"ta":8.6,"t":58},{"ta":8.6,"t":60},{"ta":8.8,"t":31.4},{"ta":8.6,"t":35.5},
      {"ta":9.05,"t":41},{"ta":9.05,"t":44},{"ta":9.05,"t":47},{"ta":9.05,"t":49},{"ta":9.05,"t":51},{"ta":9.05,"t":53},{"ta":9.05,"t":55},{"ta":9.05,"t":57},{"ta":9.05,"t":59},{"ta":9.05,"t":61},
      {"ta":9.5,"t":39},{"ta":9.5,"t":42},{"ta":9.5,"t":45},{"ta":9.5,"t":47},{"ta":9.5,"t":49},{"ta":9.5,"t":51},{"ta":9.5,"t":53},{"ta":9.5,"t":55},{"ta":9.5,"t":57},{"ta":9.5,"t":59},{"ta":9.5,"t":61},{"ta":9.5,"t":36},
      {"ta":9.95,"t":40},{"ta":9.95,"t":43},{"ta":9.95,"t":46},{"ta":9.95,"t":48},{"ta":9.95,"t":50},{"ta":9.95,"t":52},{"ta":9.95,"t":54},{"ta":9.95,"t":56},{"ta":9.95,"t":58},{"ta":9.95,"t":60},{"ta":9.95,"t":62},
      {"ta":10.4,"t":38.5},{"ta":10.4,"t":41},{"ta":10.4,"t":44},{"ta":10.4,"t":46},{"ta":10.4,"t":48},{"ta":10.4,"t":50},{"ta":10.4,"t":52},{"ta":10.4,"t":54},{"ta":10.4,"t":56},{"ta":10.4,"t":58},{"ta":10.4,"t":60},{"ta":10.4,"t":62},{"ta":10.4,"t":63.5},{"ta":10.4,"t":34},
      {"ta":10.85,"t":37.5},{"ta":10.85,"t":40},{"ta":10.85,"t":42},{"ta":10.85,"t":44},{"ta":10.85,"t":46},{"ta":10.85,"t":48},{"ta":10.85,"t":50},{"ta":10.85,"t":52},{"ta":10.85,"t":54},{"ta":10.85,"t":56},{"ta":10.85,"t":58},{"ta":10.85,"t":60},{"ta":10.85,"t":62},{"ta":10.85,"t":64},{"ta":10.85,"t":33},
      {"ta":11.3,"t":37},{"ta":11.3,"t":39},{"ta":11.3,"t":41},{"ta":11.3,"t":43},{"ta":11.3,"t":45},{"ta":11.3,"t":47},{"ta":11.3,"t":49},{"ta":11.3,"t":51},{"ta":11.3,"t":53},{"ta":11.3,"t":55},{"ta":11.3,"t":57},{"ta":11.3,"t":59},{"ta":11.3,"t":61},{"ta":11.3,"t":63},{"ta":11.3,"t":64.5},{"ta":11.3,"t":29.4},{"ta":11.3,"t":31.5},{"ta":11.3,"t":35},
      {"ta":11.75,"t":38},{"ta":11.75,"t":40},{"ta":11.75,"t":42},{"ta":11.75,"t":44},{"ta":11.75,"t":46},{"ta":11.75,"t":48},{"ta":11.75,"t":50},{"ta":11.75,"t":52},{"ta":11.75,"t":54},{"ta":11.75,"t":56},{"ta":11.75,"t":58},{"ta":11.75,"t":60},{"ta":11.75,"t":62},{"ta":11.75,"t":64},{"ta":11.75,"t":33.5},
      {"ta":12.2,"t":37},{"ta":12.2,"t":39},{"ta":12.2,"t":41},{"ta":12.2,"t":43},{"ta":12.2,"t":45},{"ta":12.2,"t":47},{"ta":12.2,"t":49},{"ta":12.2,"t":51},{"ta":12.2,"t":53},{"ta":12.2,"t":55},{"ta":12.2,"t":57},{"ta":12.2,"t":59},{"ta":12.2,"t":61},{"ta":12.2,"t":63},{"ta":12.2,"t":65},{"ta":12.2,"t":30.5},{"ta":12.2,"t":35},
      {"ta":12.65,"t":38},{"ta":12.65,"t":40},{"ta":12.65,"t":42},{"ta":12.65,"t":44},{"ta":12.65,"t":46},{"ta":12.65,"t":48},{"ta":12.65,"t":50},{"ta":12.65,"t":52},{"ta":12.65,"t":54},{"ta":12.65,"t":56},{"ta":12.65,"t":58},{"ta":12.65,"t":60},{"ta":12.65,"t":62},{"ta":12.65,"t":64},{"ta":12.6,"t":27.4},{"ta":12.65,"t":32},{"ta":12.65,"t":34.5},
      {"ta":13.1,"t":37},{"ta":13.1,"t":39},{"ta":13.1,"t":41},{"ta":13.1,"t":43},{"ta":13.1,"t":45},{"ta":13.1,"t":47},{"ta":13.1,"t":49},{"ta":13.1,"t":51},{"ta":13.1,"t":53},{"ta":13.1,"t":55},{"ta":13.1,"t":57},{"ta":13.1,"t":59},{"ta":13.1,"t":61},{"ta":13.1,"t":63},{"ta":13.1,"t":65},{"ta":13.1,"t":28.5},{"ta":13.1,"t":31},
      {"ta":13.55,"t":36},{"ta":13.55,"t":38},{"ta":13.55,"t":40},{"ta":13.55,"t":42},{"ta":13.55,"t":44},{"ta":13.55,"t":46},{"ta":13.55,"t":48},{"ta":13.55,"t":50},{"ta":13.55,"t":52},{"ta":13.55,"t":54},{"ta":13.55,"t":56},{"ta":13.55,"t":58},{"ta":13.55,"t":60},{"ta":13.55,"t":62},{"ta":13.55,"t":64},{"ta":13.55,"t":30},{"ta":13.55,"t":33},
      {"ta":14.0,"t":37},{"ta":14.0,"t":39},{"ta":14.0,"t":41},{"ta":14.0,"t":43},{"ta":14.0,"t":45},{"ta":14.0,"t":47},{"ta":14.0,"t":49},{"ta":14.0,"t":51},{"ta":14.0,"t":53},{"ta":14.0,"t":55},{"ta":14.0,"t":57},{"ta":14.0,"t":59},{"ta":14.0,"t":61},{"ta":14.0,"t":63},{"ta":14.0,"t":65},{"ta":14.0,"t":29},{"ta":14.0,"t":34},
      {"ta":14.45,"t":38},{"ta":14.45,"t":40},{"ta":14.45,"t":42},{"ta":14.45,"t":44},{"ta":14.45,"t":46},{"ta":14.45,"t":48},{"ta":14.45,"t":50},{"ta":14.45,"t":52},{"ta":14.45,"t":54},{"ta":14.45,"t":56},{"ta":14.45,"t":58},{"ta":14.45,"t":60},{"ta":14.45,"t":62},{"ta":14.45,"t":64},{"ta":14.45,"t":66},{"ta":14.4,"t":27.4},{"ta":14.45,"t":30.5},{"ta":14.45,"t":35},
      {"ta":14.9,"t":39},{"ta":14.9,"t":41},{"ta":14.9,"t":43},{"ta":14.9,"t":45},{"ta":14.9,"t":47},{"ta":14.9,"t":49},{"ta":14.9,"t":51},{"ta":14.9,"t":53},{"ta":14.9,"t":55},{"ta":14.9,"t":57},{"ta":14.9,"t":59},{"ta":14.9,"t":61},{"ta":14.9,"t":63},{"ta":14.9,"t":65},{"ta":14.9,"t":31},{"ta":14.9,"t":36},
      {"ta":15.35,"t":38},{"ta":15.35,"t":40},{"ta":15.35,"t":42},{"ta":15.35,"t":44},{"ta":15.35,"t":46},{"ta":15.35,"t":48},{"ta":15.35,"t":50},{"ta":15.35,"t":52},{"ta":15.35,"t":54},{"ta":15.35,"t":56},{"ta":15.35,"t":58},{"ta":15.35,"t":60},{"ta":15.35,"t":62},{"ta":15.35,"t":64},{"ta":15.35,"t":66},{"ta":15.35,"t":29},{"ta":15.35,"t":33},
      {"ta":15.8,"t":39},{"ta":15.8,"t":41},{"ta":15.8,"t":43},{"ta":15.8,"t":45},{"ta":15.8,"t":47},{"ta":15.8,"t":49},{"ta":15.8,"t":51},{"ta":15.8,"t":53},{"ta":15.8,"t":55},{"ta":15.8,"t":57},{"ta":15.8,"t":59},{"ta":15.8,"t":61},{"ta":15.8,"t":63},{"ta":15.8,"t":65},{"ta":15.8,"t":31},{"ta":15.8,"t":35},
      {"ta":16.25,"t":36},{"ta":16.25,"t":40},{"ta":16.25,"t":42},{"ta":16.25,"t":44},{"ta":16.25,"t":47},{"ta":16.25,"t":49},{"ta":16.25,"t":52},{"ta":16.25,"t":54},{"ta":16.25,"t":56},{"ta":16.25,"t":58},{"ta":16.25,"t":60},{"ta":16.25,"t":62},{"ta":16.25,"t":64},{"ta":16.25,"t":66},{"ta":16.25,"t":27.5},{"ta":16.25,"t":29.5},{"ta":16.25,"t":31.5},{"ta":16.25,"t":45.5},{"ta":16.25,"t":50.5},
      {"ta":16.7,"t":38},{"ta":16.7,"t":41},{"ta":16.7,"t":43},{"ta":16.7,"t":46},{"ta":16.7,"t":48},{"ta":16.7,"t":51},{"ta":16.7,"t":54},{"ta":16.7,"t":57},{"ta":16.7,"t":59},{"ta":16.7,"t":61},{"ta":16.7,"t":63},{"ta":16.7,"t":65},{"ta":16.7,"t":67},{"ta":16.7,"t":28.5},{"ta":16.7,"t":30.5},{"ta":16.7,"t":32.5},{"ta":16.7,"t":44.5},{"ta":16.7,"t":49.5},{"ta":16.7,"t":52.5},{"ta":16.7,"t":55.5},
      {"ta":17.15,"t":37},{"ta":17.15,"t":40},{"ta":17.15,"t":42},{"ta":17.15,"t":45},{"ta":17.15,"t":48},{"ta":17.15,"t":50},{"ta":17.15,"t":53},{"ta":17.15,"t":56},{"ta":17.15,"t":58},{"ta":17.15,"t":60},{"ta":17.15,"t":62},{"ta":17.15,"t":64},{"ta":17.15,"t":66},{"ta":17.15,"t":27.5},{"ta":17.15,"t":29.5},{"ta":17.15,"t":31.5},{"ta":17.15,"t":43.5},{"ta":17.15,"t":46.5},{"ta":17.15,"t":51.5},{"ta":17.15,"t":54.5},
      {"ta":17.6,"t":39},{"ta":17.6,"t":41},{"ta":17.6,"t":44},{"ta":17.6,"t":47},{"ta":17.6,"t":49},{"ta":17.6,"t":52},{"ta":17.6,"t":55},{"ta":17.6,"t":58},{"ta":17.6,"t":60},{"ta":17.6,"t":62},{"ta":17.6,"t":64},{"ta":17.6,"t":66},{"ta":17.9,"t":67.5},{"ta":17.7,"t":26.5},{"ta":17.6,"t":28.5},{"ta":17.6,"t":30.5},{"ta":17.6,"t":32.5},{"ta":17.6,"t":42.5},{"ta":17.6,"t":45.5},{"ta":17.6,"t":50.5},{"ta":17.6,"t":53.5},{"ta":17.6,"t":56.5},
      {"ta":18.05,"t":36},{"ta":18.05,"t":42},{"ta":18.05,"t":45},{"ta":18.05,"t":48},{"ta":18.05,"t":51},{"ta":18.05,"t":54},{"ta":18.05,"t":57},{"ta":18.05,"t":59},{"ta":18.05,"t":61},{"ta":18.05,"t":63},{"ta":18.05,"t":65},{"ta":18.05,"t":67},{"ta":18.05,"t":27.5},{"ta":18.05,"t":29.5},{"ta":18.05,"t":31.5},{"ta":18.05,"t":39},{"ta":18.05,"t":43.5},{"ta":18.05,"t":46.5},{"ta":18.05,"t":49.5},{"ta":18.05,"t":52.5},{"ta":18.05,"t":55.5},
      {"ta":18.5,"t":38},{"ta":18.5,"t":40},{"ta":18.5,"t":43},{"ta":18.5,"t":46},{"ta":18.5,"t":50},{"ta":18.5,"t":53},{"ta":18.5,"t":56},{"ta":18.5,"t":58},{"ta":18.5,"t":60},{"ta":18.5,"t":62},{"ta":18.5,"t":64},{"ta":18.5,"t":66},{"ta":18.5,"t":28.5},{"ta":18.5,"t":30.5},{"ta":18.5,"t":32.5},{"ta":18.5,"t":41.5},{"ta":18.5,"t":44.5},{"ta":18.5,"t":48},{"ta":18.5,"t":51.5},{"ta":18.5,"t":54.5},
      {"ta":18.95,"t":37},{"ta":18.95,"t":41},{"ta":18.95,"t":44},{"ta":18.95,"t":47},{"ta":18.95,"t":49},{"ta":18.95,"t":52},{"ta":18.95,"t":55},{"ta":18.95,"t":59},{"ta":18.95,"t":61},{"ta":18.95,"t":63},{"ta":18.95,"t":65},{"ta":18.95,"t":67},{"ta":18.95,"t":27.5},{"ta":18.95,"t":29.5},{"ta":18.95,"t":31.5},{"ta":18.95,"t":39},{"ta":18.95,"t":42.5},{"ta":18.95,"t":45.5},{"ta":18.95,"t":50.5},{"ta":18.95,"t":53.5},{"ta":18.95,"t":57},
      {"ta":19.4,"t":39},{"ta":19.4,"t":42},{"ta":19.4,"t":45},{"ta":19.4,"t":48},{"ta":19.4,"t":51},{"ta":19.4,"t":54},{"ta":19.4,"t":57},{"ta":19.4,"t":59},{"ta":19.4,"t":61},{"ta":19.4,"t":63},{"ta":19.4,"t":65},{"ta":19.4,"t":28.5},{"ta":19.4,"t":30.5},{"ta":19.4,"t":33},{"ta":19.4,"t":40.5},{"ta":19.4,"t":43.5},{"ta":19.4,"t":46.5},{"ta":19.4,"t":49.5},{"ta":19.4,"t":52.5},{"ta":19.4,"t":55.5},
      {"ta":19.85,"t":37},{"ta":19.85,"t":40},{"ta":19.85,"t":43},{"ta":19.85,"t":46},{"ta":19.85,"t":49},{"ta":19.85,"t":53},{"ta":19.85,"t":56},{"ta":19.85,"t":60},{"ta":19.85,"t":62},{"ta":19.85,"t":64},{"ta":19.85,"t":66},{"ta":19.85,"t":29.5},{"ta":19.85,"t":31.5},{"ta":19.85,"t":38.5},{"ta":19.85,"t":41.5},{"ta":19.85,"t":44.5},{"ta":19.85,"t":47.5},{"ta":19.85,"t":51},{"ta":19.85,"t":54.5},{"ta":19.85,"t":58},
      {"ta":20.3,"t":36},{"ta":20.3,"t":41},{"ta":20.3,"t":44},{"ta":20.3,"t":47},{"ta":20.3,"t":51},{"ta":20.3,"t":54},{"ta":20.3,"t":58},{"ta":20.3,"t":60},{"ta":20.3,"t":62},{"ta":20.3,"t":64},{"ta":20.3,"t":66},{"ta":20.3,"t":28.5},{"ta":20.3,"t":30.5},{"ta":20.3,"t":32.5},{"ta":20.3,"t":38.5},{"ta":20.3,"t":42.5},{"ta":20.3,"t":49},{"ta":20.3,"t":52.5},{"ta":20.3,"t":56},
      {"ta":20.75,"t":38},{"ta":20.75,"t":43},{"ta":20.75,"t":46},{"ta":20.75,"t":49},{"ta":20.75,"t":52},{"ta":20.75,"t":56},{"ta":20.75,"t":59.5},{"ta":20.75,"t":61.5},{"ta":20.75,"t":63.5},{"ta":20.75,"t":65.5},{"ta":20.4,"t":67.4},{"ta":20.75,"t":29.5},{"ta":20.75,"t":31.5},{"ta":20.75,"t":34},
      {"ta":21.2,"t":37},{"ta":21.2,"t":40},{"ta":21.2,"t":45},{"ta":21.2,"t":48},{"ta":21.2,"t":51},{"ta":21.2,"t":54},{"ta":21.2,"t":57},{"ta":21.2,"t":60},{"ta":21.2,"t":62},{"ta":21.2,"t":64},{"ta":21.2,"t":65.5},{"ta":21.2,"t":67.8},{"ta":21.2,"t":28.5},{"ta":21.2,"t":30.5},{"ta":21.2,"t":32.5},
      {"ta":21.65,"t":39},{"ta":21.65,"t":42},{"ta":21.65,"t":47},{"ta":21.65,"t":50},{"ta":21.65,"t":53},{"ta":21.65,"t":56},{"ta":21.65,"t":59.5},{"ta":21.65,"t":61.5},{"ta":21.65,"t":63.5},{"ta":21.65,"t":65.5},{"ta":21.65,"t":29.5},{"ta":21.65,"t":31.5},{"ta":21.65,"t":34.5},
      {"ta":22.1,"t":37},{"ta":22.1,"t":41},{"ta":22.1,"t":44},{"ta":22.1,"t":48},{"ta":22.1,"t":52},{"ta":22.1,"t":55},{"ta":22.1,"t":58},{"ta":22.1,"t":60},{"ta":22.1,"t":62},{"ta":22.1,"t":64},{"ta":22.1,"t":65.5},{"ta":21.9,"t":67.4},{"ta":22.1,"t":29},{"ta":22.1,"t":31},{"ta":22.1,"t":33},
      {"ta":22.55,"t":39},{"ta":22.55,"t":43},{"ta":22.55,"t":46},{"ta":22.55,"t":50},{"ta":22.55,"t":54},{"ta":22.55,"t":57},{"ta":22.55,"t":59.5},{"ta":22.55,"t":61.5},{"ta":22.55,"t":63.5},{"ta":22.55,"t":65.5},{"ta":22.55,"t":30},{"ta":22.55,"t":32},
      {"ta":23.0,"t":37},{"ta":23.0,"t":41},{"ta":23.0,"t":45},{"ta":23.0,"t":48},{"ta":23.0,"t":52},{"ta":23.0,"t":56},{"ta":23.0,"t":60},{"ta":23.0,"t":62},{"ta":23.0,"t":64},{"ta":23.0,"t":65.3},{"ta":23.0,"t":29},{"ta":23.0,"t":31},{"ta":23.0,"t":33.5},
      {"ta":23.45,"t":39},{"ta":23.45,"t":43},{"ta":23.45,"t":47},{"ta":23.45,"t":50},{"ta":23.45,"t":54},{"ta":23.45,"t":58},{"ta":23.45,"t":59.5},{"ta":23.45,"t":61.5},{"ta":23.45,"t":63.5},{"ta":23.45,"t":65.3},{"ta":23.45,"t":30},{"ta":23.45,"t":32},
      {"ta":23.9,"t":37},{"ta":23.9,"t":41},{"ta":23.9,"t":45},{"ta":23.9,"t":49},{"ta":23.9,"t":53},{"ta":23.9,"t":56},{"ta":23.9,"t":60},{"ta":23.9,"t":62},{"ta":23.9,"t":64},{"ta":23.9,"t":65.3},{"ta":23.9,"t":29},{"ta":23.9,"t":31},{"ta":23.9,"t":34},
      {"ta":24.35,"t":39},{"ta":24.35,"t":44},{"ta":24.35,"t":47},{"ta":24.35,"t":51},{"ta":24.35,"t":55},{"ta":24.35,"t":58},{"ta":24.35,"t":59.5},{"ta":24.35,"t":61.5},{"ta":24.35,"t":63.5},{"ta":24.35,"t":65.3},{"ta":24.35,"t":30},{"ta":24.35,"t":32},{"ta":24.6,"t":67.4},
      {"ta":24.8,"t":36},{"ta":24.8,"t":41},{"ta":24.8,"t":45},{"ta":24.8,"t":49},{"ta":24.8,"t":53},{"ta":24.8,"t":57},{"ta":24.8,"t":60},{"ta":24.8,"t":62},{"ta":24.8,"t":64},{"ta":24.8,"t":65.2},{"ta":24.8,"t":29},{"ta":24.8,"t":31},{"ta":24.8,"t":33},
      {"ta":25.25,"t":38},{"ta":25.25,"t":43},{"ta":25.25,"t":47},{"ta":25.25,"t":51},{"ta":25.25,"t":55},{"ta":25.25,"t":59.5},{"ta":25.25,"t":61.5},{"ta":25.25,"t":63.5},{"ta":25.25,"t":65},{"ta":25.25,"t":30},{"ta":25.25,"t":32},
      {"ta":25.7,"t":40},{"ta":25.7,"t":45},{"ta":25.7,"t":49},{"ta":25.7,"t":54},{"ta":25.7,"t":57},{"ta":25.7,"t":60},{"ta":25.7,"t":62},{"ta":25.7,"t":64},{"ta":25.7,"t":29},{"ta":25.7,"t":31},{"ta":25.7,"t":34},
      {"ta":26.15,"t":37},{"ta":26.15,"t":42},{"ta":26.15,"t":47},{"ta":26.15,"t":52},{"ta":26.15,"t":56},{"ta":26.15,"t":59.5},{"ta":26.15,"t":61.5},{"ta":26.15,"t":63.5},{"ta":26.2,"t":65.2},{"ta":26.15,"t":30},{"ta":26.15,"t":32},
      {"ta":26.6,"t":39},{"ta":26.6,"t":44},{"ta":26.6,"t":50},{"ta":26.9,"t":54.8},{"ta":26.6,"t":60},{"ta":26.6,"t":62},{"ta":26.6,"t":64},{"ta":26.6,"t":29.5},{"ta":26.6,"t":31.5},{"ta":26.6,"t":33.5},
      {"ta":27.05,"t":36},{"ta":27.05,"t":41},{"ta":27.05,"t":46},{"ta":27.05,"t":52},{"ta":27.05,"t":58},{"ta":27.05,"t":60},{"ta":27.05,"t":62},{"ta":27.05,"t":64},{"ta":27.05,"t":30},{"ta":27.05,"t":32},
      {"ta":27.5,"t":38},{"ta":27.5,"t":44},{"ta":27.8,"t":50.9},{"ta":27.5,"t":57},{"ta":27.5,"t":59.5},{"ta":27.5,"t":61.5},{"ta":27.5,"t":63.5},{"ta":27.5,"t":31},{"ta":27.5,"t":33},
      {"ta":27.95,"t":40},{"ta":27.95,"t":47},{"ta":27.95,"t":55},{"ta":27.95,"t":60},{"ta":27.95,"t":62},{"ta":27.95,"t":64},{"ta":27.95,"t":30},{"ta":27.95,"t":32},{"ta":27.95,"t":35},
      {"ta":28.4,"t":37},{"ta":28.4,"t":42},{"ta":28.4,"t":50},{"ta":28.4,"t":58},{"ta":28.4,"t":60},{"ta":28.4,"t":62},{"ta":28.4,"t":31},{"ta":28.4,"t":33},
      {"ta":28.85,"t":39},{"ta":28.85,"t":45},{"ta":28.85,"t":53},{"ta":28.85,"t":59.5},{"ta":28.85,"t":61.5},{"ta":28.85,"t":63.5},{"ta":28.85,"t":30.5},{"ta":28.85,"t":32.5},{"ta":28.85,"t":36},
      {"ta":29.3,"t":40},{"ta":29.3,"t":49.3},{"ta":29.3,"t":56},{"ta":29.3,"t":60},{"ta":29.3,"t":62},{"ta":29.3,"t":64},{"ta":29.3,"t":31},{"ta":29.3,"t":34},{"ta":29.6,"t":47.3},
      {"ta":29.75,"t":37},{"ta":29.75,"t":44},{"ta":29.75,"t":58},{"ta":29.75,"t":61},{"ta":29.75,"t":63},{"ta":29.75,"t":32},{"ta":29.75,"t":35},{"ta":29.9,"t":46.6},
      {"ta":30.2,"t":39},{"ta":30.2,"t":52},{"ta":30.2,"t":59.5},{"ta":30.2,"t":61.5},{"ta":30.2,"t":63},{"ta":30.1,"t":33},{"ta":30.2,"t":31.5},
      {"ta":30.7,"t":48.5},{"ta":30.7,"t":41},{"ta":30.7,"t":60.5},{"ta":30.7,"t":62.5},{"ta":30.9,"t":49.5},{"ta":31.0,"t":61.5},{"ta":30.9,"t":63.5},{"ta":31.0,"t":31.4},
      {"ta":31.4,"t":32.3},{"ta":31.4,"t":38.8},{"ta":31.4,"t":61},{"ta":31.5,"t":62.5},{"ta":31.9,"t":63.2},{"ta":32.2,"t":52.2},{"ta":32.4,"t":62.2},{"ta":33.4,"t":63.0},{"ta":33.6,"t":64.2},{"ta":33.8,"t":42.1},{"ta":33.8,"t":35.9}
    ],
    "fahrkurve": [
      {"ta":-14.7,"t":135},{"ta":-11,"t":135},{"ta":6,"t":80},{"ta":35,"t":80}
    ]
  },
  "encoding": {
    "x": {
      "field": "ta",
      "type": "quantitative",
      "scale": {"domain": [-15, 35], "nice": false, "zero": false},
      "axis": {"title": "Außenlufttemperatur in °C", "values": [-10, 0, 10, 20, 30], "labelPadding": 13, "titlePadding": 10}
    },
    "y": {
      "field": "t",
      "type": "quantitative",
      "scale": {"domain": [20, 140], "nice": false, "zero": false},
      "axis": {"title": "Temperatur in °C", "values": [20, 40, 60, 80, 100, 120, 140], "labelPadding": 12, "titlePadding": 17}
    }
  },
  "layer": [
    {
      "data": {"name": "vorlauf"},
      "mark": {"type": "point", "filled": true, "opacity": 1, "size": 150},
      "encoding": {
        "color": {
          "datum": "Stundenwerte Vorlauftemperatur",
          "scale": {
            "domain": ["Stundenwerte Vorlauftemperatur", "Stundenwerte Rücklauftemperatur", "Fahrkurve Teilnetz (TAB)", "Zielwert Auskühlung (TAB)"],
            "range": ["#e6745e", "#3470a2", "#555555", "#555555"]
          },
          "legend": {
            "title": null,
            "orient": "none",
            "legendX": 627,
            "legendY": 14,
            "padding": 8.6,
            "fillColor": "rgba(255,255,255,0.8)",
            "strokeColor": "#c8c8c8",
            "cornerRadius": 5,
            "labelFont": "DejaVu Sans",
            "labelFontSize": 25,
            "labelColor": "#000000",
            "labelLimit": 0,
            "labelOffset": 34,
            "symbolOffset": 12.7,
            "symbolSize": 441,
            "symbolStrokeWidth": 4,
            "symbolOpacity": 1,
            "symbolType": {"expr": "indexof(['Fahrkurve Teilnetz (TAB)', 'Zielwert Auskühlung (TAB)'], datum.value) < 0 ? 'M-0.58,0A0.58,0.58,0,1,0,0.58,0A0.58,0.58,0,1,0,-0.58,0Z' : 'M-2.4,0H2.4'"},
            "symbolStrokeColor": {"expr": "indexof(['Fahrkurve Teilnetz (TAB)', 'Zielwert Auskühlung (TAB)'], datum.value) < 0 ? 'transparent' : '#555555'"},
            "symbolDash": {"expr": "datum.value === 'Fahrkurve Teilnetz (TAB)' ? [16.5, 7.5] : (datum.value === 'Zielwert Auskühlung (TAB)' ? [27, 7, 4, 7] : [1, 0])"},
            "rowPadding": 10.7
          }
        }
      }
    },
    {
      "data": {"name": "ruecklauf"},
      "mark": {"type": "point", "filled": true, "opacity": 1, "size": 150},
      "encoding": {
        "color": {"datum": "Stundenwerte Rücklauftemperatur"}
      }
    },
    {
      "data": {"name": "fahrkurve"},
      "mark": {"type": "line", "strokeWidth": 4.2, "strokeDash": [16.5, 7.5], "strokeJoin": "round"},
      "encoding": {
        "color": {"datum": "Fahrkurve Teilnetz (TAB)"}
      }
    },
    {
      "data": {"values": [{"t": 45}]},
      "mark": {"type": "rule", "strokeWidth": 4.2, "strokeDash": [27, 7, 4, 7]},
      "encoding": {
        "x": null,
        "y": {"field": "t", "type": "quantitative"},
        "color": {"datum": "Zielwert Auskühlung (TAB)"}
      }
    }
  ],
  "config": {
    "font": "DejaVu Sans",
    "view": {"stroke": "#000000", "strokeWidth": 2},
    "axis": {
      "labelFont": "DejaVu Sans",
      "labelFontSize": 30,
      "labelColor": "#000000",
      "titleFont": "DejaVu Sans",
      "titleFontSize": 30,
      "titleFontWeight": "normal",
      "titleColor": "#000000",
      "domainColor": "#000000",
      "domainWidth": 2,
      "tickColor": "#000000",
      "tickWidth": 2,
      "tickSize": 10,
      "gridColor": "#b0b0b0",
      "gridWidth": 2
    }
  }
}
